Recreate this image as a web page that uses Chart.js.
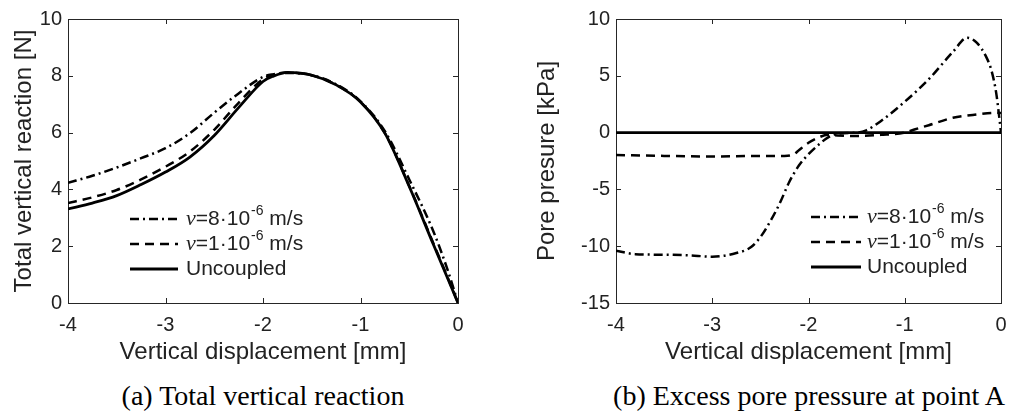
<!DOCTYPE html>
<html>
<head>
<meta charset="utf-8">
<script src="https://cdn.jsdelivr.net/npm/chart.js@4.4.1/dist/chart.umd.min.js"></script>
<style>
    body { margin: 0; background: #fff; width: 1017px; height: 417px; overflow: hidden; position: relative; }
    canvas { position: absolute; top: 0; }
    .caption {
        position: absolute; top: 382px; line-height: 28px;
        font-family: "Liberation Serif", "Times New Roman", serif; font-size: 28px;
        color: #000; white-space: nowrap; transform: translateX(-50%);
    }
</style>
</head>
<body>
<canvas id="reactionChart" width="480" height="370" style="left:0"></canvas>
<canvas id="pressureChart" width="517" height="370" style="left:500px"></canvas>
<div class="caption" style="left:263px">(a) Total vertical reaction</div>
<div class="caption" style="left:809px">(b) Excess pore pressure at point A</div>

<script>
// --- data ---
const xTickValues = [-4, -3, -2, -1, 0];
const xTickLabels = ['-4', '-3', '-2', '-1', '0'];
const reactionTickValues = [0, 2, 4, 6, 8, 10];
const reactionTickLabels = ['0', '2', '4', '6', '8', '10'];
const pressureTickValues = [-15, -10, -5, 0, 5, 10];
const pressureTickLabels = ['-15', '-10', '-5', '0', '5', '10'];

const seriesNames = ['v=8·10⁻⁶ m/s', 'v=1·10⁻⁶ m/s', 'Uncoupled'];
const legendParts = [
    { italic: 'v', main: '=8·10', sup: '-6', tail: ' m/s' },
    { italic: 'v', main: '=1·10', sup: '-6', tail: ' m/s' },
    { italic: '', main: 'Uncoupled', sup: '', tail: '' }
];

// (a) total vertical reaction [N]
const reactionX = [-4, -3.75, -3.5, -3.25, -3, -2.75, -2.5, -2.25, -2, -1.9, -1.75, -1.5, -1.25, -1, -0.75, -0.5, -0.25, -0.1, 0];
const reaction8 = [4.23, 4.48, 4.77, 5.1, 5.45, 5.98, 6.7, 7.38, 7.96, 8.05, 8.1, 8.02, 7.7, 7.1, 6.05, 4.35, 2.5, 1.1, 0];
const reaction1 = [3.52, 3.72, 3.98, 4.35, 4.8, 5.33, 6.1, 7.05, 7.88, 8.03, 8.12, 8.02, 7.68, 7.08, 5.98, 4.12, 2.08, 0.85, 0];
const reactionU = [3.31, 3.52, 3.78, 4.17, 4.61, 5.14, 5.9, 6.88, 7.8, 7.98, 8.12, 8.02, 7.68, 7.08, 5.98, 4.1, 2.04, 0.82, 0];

// (b) excess pore pressure [kPa]
const pressure8X = [-4, -3.8, -3.5, -3.25, -3, -2.75, -2.6, -2.5, -2.4, -2.3, -2.2, -2.1, -2, -1.9, -1.8, -1.7, -1.5, -1.4, -1.25, -1, -0.75, -0.5, -0.35, -0.25, -0.15, -0.1, -0.05, -0.02, 0];
const pressure8 = [-10.4, -10.7, -10.75, -10.8, -10.92, -10.6, -10.1, -9.2, -7.85, -6.25, -4.35, -2.9, -1.9, -1.1, -0.44, -0.1, 0, 0.2, 1.0, 2.72, 4.7, 7.1, 8.35, 7.9, 6.6, 5.5, 3.5, 1.5, 0];
const pressure1X = [-4, -3.5, -3, -2.5, -2.25, -2.15, -2.1, -2, -1.9, -1.8, -1.7, -1.5, -1.25, -1, -0.9, -0.75, -0.5, -0.25, -0.05, 0];
const pressure1 = [-1.97, -2.05, -2.1, -2.05, -2.05, -1.9, -1.55, -0.9, -0.45, -0.18, -0.25, -0.3, -0.2, 0, 0.27, 0.65, 1.3, 1.6, 1.75, 1.72];
const pressureUX = [-4, 0];
const pressureU = [0, 0];

const INK = '#222';
const SANS = '"Liberation Sans", Arial, sans-serif';
const SERIF = '"Liberation Serif", "Times New Roman", serif';
const DASH_STYLES = [[9, 4, 2, 4], [9, 6], []];

const toPoints = (xs, ys) => xs.map((x, i) => ({ x: x, y: ys[i] }));

// box round the axes + inward tick marks, MATLAB style
const framePlugin = {
    id: 'frame',
    beforeDatasetsDraw(chart) {
        const { ctx, chartArea: a, scales: { x, y } } = chart;
        ctx.save();
        ctx.strokeStyle = '#262626';
        ctx.lineWidth = 1;
        ctx.strokeRect(Math.round(a.left) + 0.5, Math.round(a.top) + 0.5, Math.round(a.width), Math.round(a.height));
        ctx.beginPath();
        x.ticks.forEach(t => {
            const px = Math.round(x.getPixelForValue(t.value)) + 0.5;
            ctx.moveTo(px, a.bottom); ctx.lineTo(px, a.bottom - 5);
            ctx.moveTo(px, a.top); ctx.lineTo(px, a.top + 5);
        });
        y.ticks.forEach(t => {
            const py = Math.round(y.getPixelForValue(t.value)) + 0.5;
            ctx.moveTo(a.left, py); ctx.lineTo(a.left + 5, py);
            ctx.moveTo(a.right, py); ctx.lineTo(a.right - 5, py);
        });
        ctx.stroke();
        ctx.restore();
    }
};

// legend drawn inside the axes (italic v + superscript exponent)
const innerLegendPlugin = {
    id: 'innerLegend',
    afterDatasetsDraw(chart, args, opts) {
        const { ctx, chartArea: a } = chart;
        ctx.save();
        ctx.textBaseline = 'middle';
        ctx.textAlign = 'left';
        chart.data.datasets.forEach((ds, i) => {
            const y = a.top + opts.top + i * opts.rowGap;
            const x0 = a.left + opts.left;
            ctx.strokeStyle = ds.borderColor;
            ctx.lineWidth = ds.borderWidth;
            ctx.setLineDash(ds.borderDash || []);
            ctx.beginPath();
            ctx.moveTo(x0, y); ctx.lineTo(x0 + opts.lineLength, y);
            ctx.stroke();
            ctx.setLineDash([]);

            const p = legendParts[i];
            let tx = x0 + opts.lineLength + opts.gap;
            ctx.fillStyle = INK;
            if (p.italic) {
                ctx.font = 'italic 22px ' + SERIF;
                ctx.fillText(p.italic, tx, y);
                tx += ctx.measureText(p.italic).width;
            }
            ctx.font = '21px ' + SANS;
            ctx.fillText(p.main, tx, y);
            tx += ctx.measureText(p.main).width;
            if (p.sup) {
                ctx.font = '14px ' + SANS;
                ctx.fillText(p.sup, tx + 1, y - 8);
                tx += ctx.measureText(p.sup).width + 1;
            }
            if (p.tail) {
                ctx.font = '21px ' + SANS;
                ctx.fillText(p.tail, tx, y);
            }
        });
        ctx.restore();
    }
};

function fixedTicks(values, labels) {
    return {
        afterBuildTicks: scale => { scale.ticks = values.map(v => ({ value: v })); },
        callback: (value) => labels[values.indexOf(value)]
    };
}

function createCurveChart(canvasId, datasets, opts) {
    const ctx = document.getElementById(canvasId);
    const xt = fixedTicks(xTickValues, xTickLabels);
    const yt = fixedTicks(opts.yTickValues, opts.yTickLabels);

    return new Chart(ctx, {
        type: 'line',
        data: {
            datasets: datasets.map((ds, i) => ({
                label: seriesNames[i],
                data: ds,
                borderColor: '#000',
                borderWidth: i === 2 ? 2.8 : 2.5,
                borderDash: DASH_STYLES[i],
                pointRadius: 0,
                fill: false,
                cubicInterpolationMode: 'monotone'
            }))
        },
        options: {
            responsive: false,
            animation: false,
            layout: {
                padding: { top: opts.top, right: ctx.width - opts.right, left: 0, bottom: 0 }
            },
            scales: {
                x: {
                    type: 'linear',
                    min: -4,
                    max: 0,
                    afterBuildTicks: xt.afterBuildTicks,
                    afterFit: scale => { scale.height = ctx.height - opts.bottom; },
                    grid: { display: false, drawTicks: false },
                    border: { display: false },
                    ticks: {
                        callback: xt.callback,
                        color: INK,
                        padding: 10,
                        maxRotation: 0,
                        font: { family: SANS, size: 20 }
                    },
                    title: {
                        display: true,
                        text: 'Vertical displacement [mm]',
                        color: INK,
                        padding: { bottom: 3 },
                        font: { family: SANS, size: 24 }
                    }
                },
                y: {
                    type: 'linear',
                    min: opts.yMin,
                    max: opts.yMax,
                    afterBuildTicks: yt.afterBuildTicks,
                    afterFit: scale => { scale.width = opts.left; },
                    grid: { display: false, drawTicks: false },
                    border: { display: false },
                    ticks: {
                        callback: yt.callback,
                        color: INK,
                        padding: 6,
                        font: { family: SANS, size: 20 }
                    },
                    title: {
                        display: true,
                        text: opts.yTitle,
                        color: INK,
                        padding: { top: opts.yTitlePad },
                        font: { family: SANS, size: 24 }
                    }
                }
            },
            plugins: {
                legend: { display: false },
                tooltip: { enabled: false },
                innerLegend: opts.legend
            }
        },
        plugins: [framePlugin, innerLegendPlugin]
    });
}

createCurveChart('reactionChart', [
    toPoints(reactionX, reaction8),
    toPoints(reactionX, reaction1),
    toPoints(reactionX, reactionU)
], {
    left: 68, right: 458, top: 19, bottom: 303,
    yMin: 0, yMax: 10,
    yTickValues: reactionTickValues, yTickLabels: reactionTickLabels,
    yTitle: 'Total vertical reaction [N]', yTitlePad: 10,
    legend: { left: 62, top: 200, rowGap: 25, lineLength: 48, gap: 8 }
});

createCurveChart('pressureChart', [
    toPoints(pressure8X, pressure8),
    toPoints(pressure1X, pressure1),
    toPoints(pressureUX, pressureU)
], {
    left: 116, right: 501, top: 19, bottom: 303,
    yMin: -15, yMax: 10,
    yTickValues: pressureTickValues, yTickLabels: pressureTickLabels,
    yTitle: 'Pore presure [kPa]', yTitlePad: 33,
    legend: { left: 195, top: 198, rowGap: 25, lineLength: 50, gap: 6 }
});
</script>
</body>
</html>
